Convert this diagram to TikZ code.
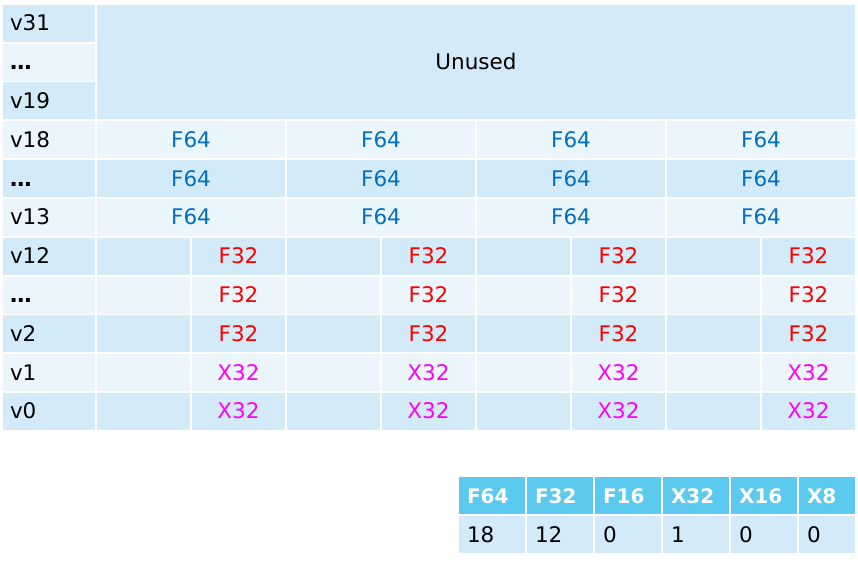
\documentclass[tikz,border=0pt]{standalone}
\usepackage{fontspec}
\setmainfont{DejaVu Sans}

\definecolor{rowdark}{HTML}{D3EBF8}
\definecolor{rowlight}{HTML}{EAF5FC}
\definecolor{hdrblue}{HTML}{5CC9EF}
\definecolor{fblue}{HTML}{0070C0}
\definecolor{fred}{HTML}{FF0000}
\definecolor{xpink}{HTML}{FF00FF}

\begin{document}
\begin{tikzpicture}[x=1pt,y=-1pt,
    cell/.style={draw=white,line width=1.8pt,inner sep=0pt,minimum height=38.8pt,
      text height=16pt,text depth=1pt,font=\fontsize{21.5}{25}\selectfont},
    labelcell/.style={cell,text width=78pt,inner xsep=8pt,align=left},
    tabcell/.style={cell,minimum height=39pt,inner xsep=9pt,align=left}]
  \useasboundingbox (0,0) rectangle (858,564);

  % register names
  \foreach \lab/\shade [count=\i from 0] in
      {v31/rowdark,\textbf{…}/rowlight,v19/rowdark,v18/rowlight,\textbf{…}/rowdark,
       v13/rowlight,v12/rowdark,\textbf{…}/rowlight,v2/rowdark,v1/rowlight,v0/rowdark}
    \node[labelcell,fill=\shade] (reg\i) at (49,{23.4+38.8*\i}) {\lab};

  \node[cell,fill=rowdark,minimum width=760pt,minimum height=116.4pt] (unused)
    at (476,62.2) {Unused};

  % 64-bit lanes
  \foreach \i/\shade in {3/rowlight,4/rowdark,5/rowlight}
    \foreach \j in {0,...,3}
      \node[cell,fill=\shade,minimum width=190pt,text=fblue] (d\i-\j)
        at ({191+190*\j},{23.4+38.8*\i}) {F64};

  % 32-bit lanes
  \foreach \i/\shade/\kind/\col in {6/rowdark/F32/fred,7/rowlight/F32/fred,
      8/rowdark/F32/fred,9/rowlight/X32/xpink,10/rowdark/X32/xpink}
    \foreach \j in {0,...,3} {
      \node[cell,fill=\shade,minimum width=95pt] (lo\i-\j)
        at ({143.5+190*\j},{23.4+38.8*\i}) {};
      \node[cell,fill=\shade,minimum width=95pt,text=\col] (hi\i-\j)
        at ({238.5+190*\j},{23.4+38.8*\i}) {\kind};
    }

  % register counts
  \foreach \x/\w/\hd/\val [count=\k] in {458/68/F64/18,526/68/F32/12,594/68/F16/0,
      662/68/X32/1,730/68/X16/0,798/58/X8/0} {
    \node[tabcell,fill=hdrblue,text=white,font=\fontsize{20}{24}\selectfont\bfseries,
      text width={(\w-18)*1pt}] (hd\k) at ({\x+\w/2},495.5) {\hd};
    \node[tabcell,fill=rowdark,text width={(\w-18)*1pt}] (val\k)
      at ({\x+\w/2},534.5) {\val};
  }
\end{tikzpicture}
\end{document}
